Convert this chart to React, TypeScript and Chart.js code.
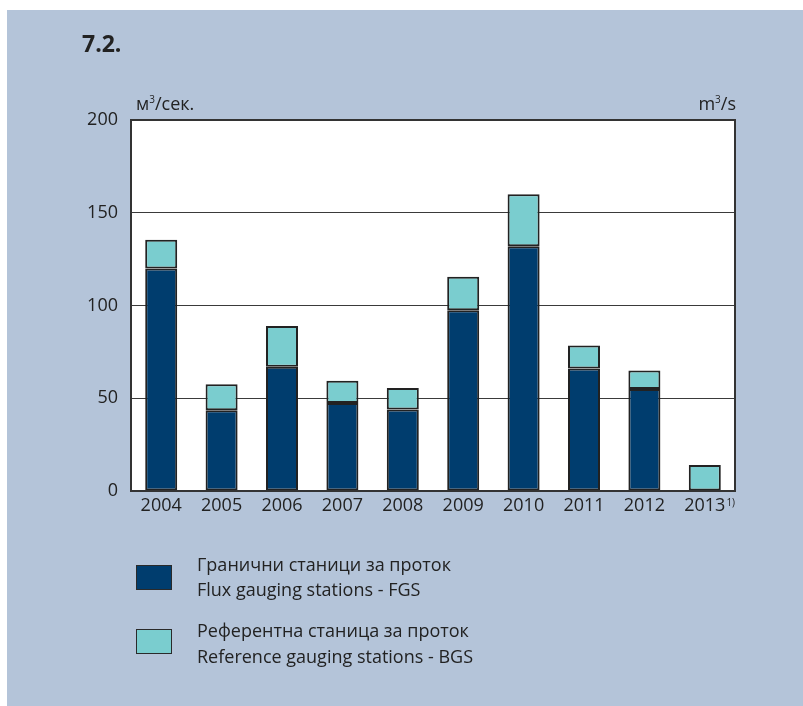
import React, { useEffect, useRef } from "react";
import { Chart, registerables } from "chart.js";

Chart.register(...registerables);

const years = ["2004", "2005", "2006", "2007", "2008", "2009", "2010", "2011", "2012", "2013"];
const fgsValues = [120, 43.5, 67, 47.5, 44, 97.5, 132, 66, 55, null];
const bgsValues = [15.5, 14, 22, 12, 11.5, 18, 28, 12.5, 10, 14];
const yTicks = [0, 50, 100, 150, 200];
const fgsLabel = ["Гранични станици за проток", "Flux gauging stations - FGS"];
const bgsLabel = ["Референтна станица за проток", "Reference gauging stations - BGS"];
const footnoteYear = "2013";
const footnoteMark = "1)";

const FONT = "'Open Sans', 'Noto Sans', sans-serif";
const NAVY = "#003d6e";
const CYAN = "#7acdcf";
const BG = "#b4c4d9";
const EDGE = "#222222";

const framePlugin = {
  id: "frame",
  beforeDraw(chart: any) {
    const { ctx, chartArea: a } = chart;
    ctx.save();
    ctx.fillStyle = "#ffffff";
    ctx.fillRect(a.left, a.top, a.right - a.left, a.bottom - a.top);
    ctx.restore();
  },
  afterDraw(chart: any) {
    const { ctx, chartArea: a } = chart;
    ctx.save();
    ctx.strokeStyle = "#333333";
    ctx.lineWidth = 2;
    ctx.strokeRect(a.left, a.top, a.right - a.left, a.bottom - a.top);
    const xs = chart.scales.x;
    const idx = years.indexOf(footnoteYear);
    ctx.font = "18px " + FONT;
    const w = ctx.measureText(footnoteYear).width;
    const cx = xs.getPixelForValue(idx);
    ctx.fillStyle = "#222222";
    ctx.font = "10px " + FONT;
    ctx.textBaseline = "middle";
    ctx.textAlign = "left";
    ctx.fillText(footnoteMark, cx + w / 2 + 1, a.bottom + 12);
    ctx.restore();
  },
};

export default function App() {
  const ref = useRef<HTMLCanvasElement>(null);
  useEffect(() => {
    document.body.style.margin = "0";
    const chart = new Chart(ref.current!, {
      type: "bar",
      data: {
        labels: years,
        datasets: [
          {
            label: fgsLabel.join(" / "),
            data: fgsValues as any,
            backgroundColor: NAVY,
            borderColor: EDGE,
            borderWidth: 2,
            borderSkipped: false,
            barPercentage: 0.53,
            categoryPercentage: 1,
          },
          {
            label: bgsLabel.join(" / "),
            data: bgsValues,
            backgroundColor: CYAN,
            borderColor: EDGE,
            borderWidth: 2,
            borderSkipped: false,
            barPercentage: 0.53,
            categoryPercentage: 1,
          },
        ],
      },
      options: {
        animation: false,
        responsive: false,
        maintainAspectRatio: false,
        layout: { padding: { left: 0, right: 68, top: 120, bottom: 0 } },
        plugins: { legend: { display: false }, tooltip: { enabled: false } },
        scales: {
          x: {
            stacked: true,
            grid: { display: false, drawTicks: false },
            border: { display: false },
            ticks: { color: "#222", font: { family: FONT, size: 18 }, padding: 4 },
            afterFit: (s: any) => { s.height = 215; },
          },
          y: {
            stacked: true,
            min: 0,
            max: 200,
            afterBuildTicks: (s: any) => { s.ticks = yTicks.map((v) => ({ value: v })); },
            grid: { color: "#3a3a3a", lineWidth: 1, drawTicks: false },
            border: { display: false },
            ticks: { color: "#222", font: { family: FONT, size: 18 }, padding: 13 },
            afterFit: (s: any) => { s.width = 131; },
          },
        },
      },
      plugins: [framePlugin],
    });
    return () => chart.destroy();
  }, []);

  const txt: React.CSSProperties = { position: "absolute", fontFamily: FONT, color: "#222", whiteSpace: "nowrap" };
  const box = (c: string, top: number): React.CSSProperties => ({
    position: "absolute", left: 136, top, width: 34, height: 23, background: c, border: "1.5px solid #2a2a2a",
  });

  return (
    <div style={{ position: "relative", width: 803, height: 706, background: "#fff", overflow: "hidden" }}>
      <div style={{ position: "absolute", left: 7, top: 10, right: 0, bottom: 0, background: BG }} />
      <canvas ref={ref} width={803} height={706} style={{ position: "absolute", left: 0, top: 0 }} />
      <div style={{ ...txt, left: 82, top: 27, fontSize: 23, fontWeight: 700 }}>7.2.</div>
      <div style={{ ...txt, left: 136, top: 91, fontSize: 18 }}>м<sup style={{ fontSize: 10 }}>3</sup>/сек.</div>
      <div style={{ ...txt, right: 803 - 736, top: 91, fontSize: 18 }}>m<sup style={{ fontSize: 10 }}>3</sup>/s</div>
      <div style={box(NAVY, 565)} />
      <div style={{ ...txt, left: 197, top: 552, fontSize: 18, lineHeight: "25px" }}>{fgsLabel[0]}<br />{fgsLabel[1]}</div>
      <div style={box(CYAN, 629)} />
      <div style={{ ...txt, left: 197, top: 617, fontSize: 18, lineHeight: "26px" }}>{bgsLabel[0]}<br />{bgsLabel[1]}</div>
    </div>
  );
}
